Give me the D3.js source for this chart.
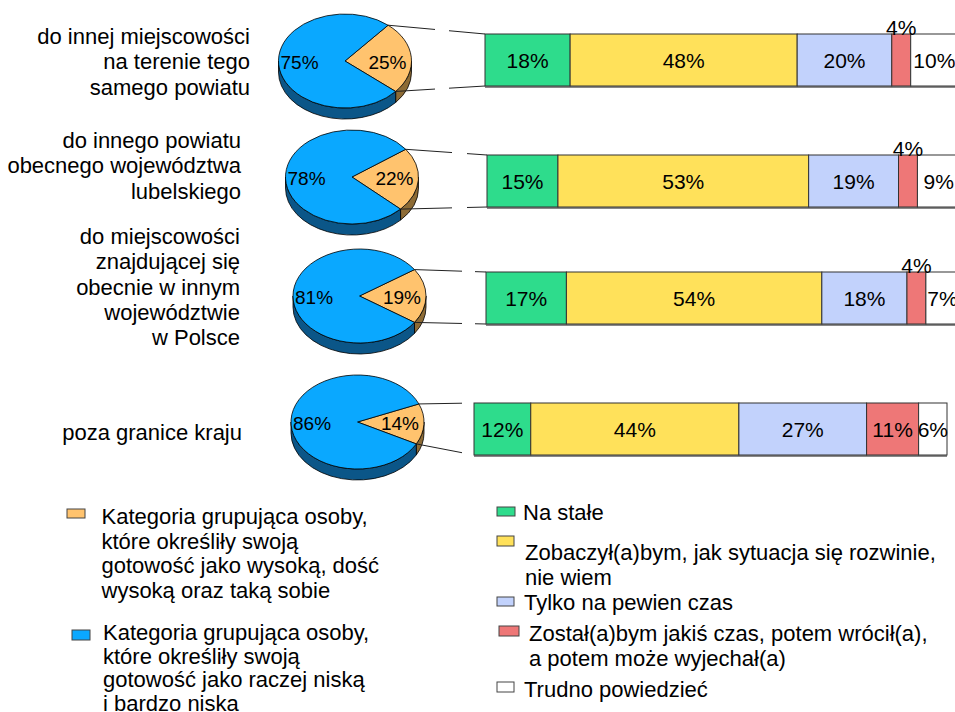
<!DOCTYPE html>
<html>
<head>
<meta charset="utf-8">
<script src="https://cdn.jsdelivr.net/npm/d3@7"></script>
<style>
  body { margin: 0; background: #fff; }
  svg text { font-family: "Liberation Sans", Arial, sans-serif; fill: #000; }
</style>
</head>
<body>
<div id="chart"></div>
<script>
// dane
const categories = [
    ['do innej miejscowości', 'na terenie tego', 'samego powiatu'],
    ['do innego powiatu', 'obecnego województwa', 'lubelskiego'],
    ['do miejscowości', 'znajdującej się', 'obecnie w innym', 'województwie', 'w Polsce'],
    ['poza granice kraju']
];
const pieHigh = [25, 22, 19, 14];   // wysoka / dość wysoka / taka sobie
const pieLow = [75, 78, 81, 86];    // raczej niska / bardzo niska

const naStale = [18, 15, 17, 12];
const zobaczylbym = [48, 53, 54, 44];
const tylkoNaCzas = [20, 19, 18, 27];
const zostalbym = [4, 4, 4, 11];
const trudno = [10, 9, 7, 6];

const pieNames = [
    ['Kategoria grupująca osoby,', 'które określiły swoją', 'gotowość jako wysoką, dość', 'wysoką oraz taką sobie'],
    ['Kategoria grupująca osoby,', 'które określiły swoją', 'gotowość jako raczej niską', 'i bardzo niska']
];
const seriesNames = [
    ['Na stałe'],
    ['Zobaczył(a)bym, jak sytuacja się rozwinie,', 'nie wiem'],
    ['Tylko na pewien czas'],
    ['Został(a)bym jakiś czas, potem wrócił(a),', 'a potem może wyjechał(a)'],
    ['Trudno powiedzieć']
];

// układ
const W = 955, H = 712;
const barColors = ['#2edc8c', '#ffe15a', '#c2d2fc', '#ee7777', '#ffffff'];
const pieColors = { high: '#ffc36e', low: '#0aa8ff', highSide: '#8d6b35', lowSide: '#0b5688' };
const rows = [
    { cx: 345, cy: 61, tilt: -4.6, barX: 485, barY: 34, labelRight: 250, labelY: 44, gap: [435, 449] },
    { cx: 352, cy: 177, tilt: 3.5, barX: 487, barY: 155, labelRight: 241, labelY: 148, gap: [452, 467] },
    { cx: 359.5, cy: 296, tilt: 0, barX: 486, barY: 272, labelRight: 240, labelY: 244, gap: [462, 475] },
    { cx: 357.5, cy: 422, tilt: 2.6, barX: 474, barY: 403, labelRight: 242, labelY: 440, gap: [462, 474] }
];
const rx = 66.5, ry = 47, depth = 11, barH = 52;

const svg = d3.select('#chart').append('svg')
    .attr('width', W)
    .attr('height', H)
    .style('display', 'block');

const x = d3.scaleLinear().domain([0, 100]).range([0, 473]);
const pie = d3.pie().sort(null);

function pt(r, t, dy = 0) {
    return [r.cx + rx * Math.cos(t), r.cy + ry * Math.sin(t) + dy];
}

// widoczna część boku (dolna połowa elipsy)
function sideParts(t0, t1) {
    const out = [];
    [-2 * Math.PI, 0, 2 * Math.PI].forEach(k => {
        const a = Math.max(t0, k), b = Math.min(t1, k + Math.PI);
        if (b > a) out.push([a, b]);
    });
    return out;
}

function sidePath(r, a, b) {
    const p1 = pt(r, a), p2 = pt(r, b), p3 = pt(r, b, depth), p4 = pt(r, a, depth);
    return `M${p1}A${rx},${ry} 0 0 1 ${p2}L${p3}A${rx},${ry} 0 0 0 ${p4}Z`;
}

function topPath(r, a, b) {
    const p1 = pt(r, a), p2 = pt(r, b);
    return `M${r.cx},${r.cy}L${p1}A${rx},${ry} 0 ${b - a > Math.PI ? 1 : 0} 1 ${p2}Z`;
}

rows.forEach((r, i) => {
    const g = svg.append('g');

    // kategorie
    g.append('text')
        .attr('text-anchor', 'end')
        .attr('font-size', '22px')
        .selectAll('tspan')
        .data(categories[i])
        .join('tspan')
        .attr('x', r.labelRight)
        .attr('y', (d, j) => r.labelY + j * 25.3)
        .text(d => d);

    // kołowy 3D
    const pHigh = pieHigh[i] / 100;
    const tilt = r.tilt * Math.PI / 180;
    const start = Math.PI / 2 + tilt - Math.PI * pHigh;
    const arcs = pie.startAngle(start).endAngle(start + 2 * Math.PI)([pieHigh[i], pieLow[i]]);
    const slices = arcs.map((a, j) => ({
        t0: a.startAngle - Math.PI / 2,
        t1: a.endAngle - Math.PI / 2,
        fill: j === 0 ? pieColors.high : pieColors.low,
        side: j === 0 ? pieColors.highSide : pieColors.lowSide
    }));

    slices.forEach(s => {
        sideParts(s.t0, s.t1).forEach(([a, b]) => {
            g.append('path')
                .attr('d', sidePath(r, a, b))
                .attr('fill', s.side)
                .attr('stroke', '#000')
                .attr('stroke-width', 0.8)
                .attr('stroke-linejoin', 'round');
        });
    });
    slices.forEach(s => {
        g.append('path')
            .attr('d', topPath(r, s.t0, s.t1))
            .attr('fill', s.fill)
            .attr('stroke', '#000')
            .attr('stroke-width', 0.8)
            .attr('stroke-linejoin', 'round');
    });

    g.append('text')
        .attr('x', r.cx - rx + 2)
        .attr('y', r.cy + 7.5)
        .attr('font-size', '19px')
        .text(pieLow[i] + '%');
    g.append('text')
        .attr('x', r.cx + rx - 5)
        .attr('y', r.cy + 8)
        .attr('text-anchor', 'end')
        .attr('font-size', '19px')
        .text(pieHigh[i] + '%');

    // linie łączące (z przerwą)
    const ends = [[pt(r, slices[0].t0), [r.barX, r.barY]], [pt(r, slices[0].t1), [r.barX, r.barY + barH]]];
    ends.forEach(([a, b]) => {
        const yAt = xx => a[1] + (b[1] - a[1]) * (xx - a[0]) / (b[0] - a[0]);
        [[a[0], r.gap[0]], [r.gap[1], b[0]]].forEach(([x0, x1]) => {
            g.append('line')
                .attr('x1', x0).attr('y1', yAt(x0))
                .attr('x2', x1).attr('y2', yAt(x1))
                .attr('stroke', '#222')
                .attr('stroke-width', 1);
        });
    });

    // słupek skumulowany
    const vals = [naStale[i], zobaczylbym[i], tylkoNaCzas[i], zostalbym[i], trudno[i]];
    const cum = Array.from(d3.cumsum(vals));
    const segs = cum.map((c, j) => ({ v: vals[j], x0: c - vals[j], x1: c, color: barColors[j] }));

    g.append('line')
        .attr('x1', r.barX).attr('x2', r.barX + x(100))
        .attr('y1', r.barY + barH + 1).attr('y2', r.barY + barH + 1)
        .attr('stroke', '#888')
        .attr('stroke-width', 2);

    g.selectAll('rect.seg')
        .data(segs)
        .join('rect')
        .attr('class', 'seg')
        .attr('x', d => r.barX + x(d.x0))
        .attr('y', r.barY)
        .attr('width', d => x(d.x1) - x(d.x0))
        .attr('height', barH)
        .attr('fill', d => d.color)
        .attr('stroke', '#333')
        .attr('stroke-width', 1);

    g.selectAll('text.val')
        .data(segs)
        .join('text')
        .attr('class', 'val')
        .attr('font-size', '21px')
        .attr('text-anchor', 'middle')
        .attr('x', d => r.barX + x((d.x0 + d.x1) / 2))
        .attr('y', d => x(d.v) < 20 ? r.barY + 1 : r.barY + barH / 2 + 7.5)
        .text(d => d.v + '%');
});

// legenda - koło
const pieLegend = [
    { color: pieColors.high, box: [67, 509, 18, 9], tx: 101.5, ty: 524, step: 24.5 },
    { color: pieColors.low, box: [72, 630, 18, 10], tx: 103, ty: 640, step: 23.5 }
];
pieLegend.forEach((l, i) => {
    svg.append('rect')
        .attr('x', l.box[0]).attr('y', l.box[1])
        .attr('width', l.box[2]).attr('height', l.box[3])
        .attr('fill', l.color)
        .attr('stroke', '#444')
        .attr('stroke-width', 1);
    svg.append('text')
        .attr('font-size', '22px')
        .selectAll('tspan')
        .data(pieNames[i])
        .join('tspan')
        .attr('x', l.tx)
        .attr('y', (d, j) => l.ty + j * l.step)
        .text(d => d);
});

// legenda - słupki
const barLegend = [
    { box: [497, 507, 18, 9], tx: 523, ty: 520 },
    { box: [497, 536, 17, 10], tx: 525, ty: 560 },
    { box: [497, 597, 17, 9], tx: 524, ty: 610 },
    { box: [499, 626, 20, 10], tx: 529, ty: 641 },
    { box: [497, 682, 17, 10], tx: 524, ty: 697 }
];
barLegend.forEach((l, i) => {
    svg.append('rect')
        .attr('x', l.box[0]).attr('y', l.box[1])
        .attr('width', l.box[2]).attr('height', l.box[3])
        .attr('fill', barColors[i])
        .attr('stroke', '#444')
        .attr('stroke-width', 1);
    svg.append('text')
        .attr('font-size', '22px')
        .selectAll('tspan')
        .data(seriesNames[i])
        .join('tspan')
        .attr('x', l.tx)
        .attr('y', (d, j) => l.ty + j * 25)
        .text(d => d);
});
</script>
</body>
</html>
